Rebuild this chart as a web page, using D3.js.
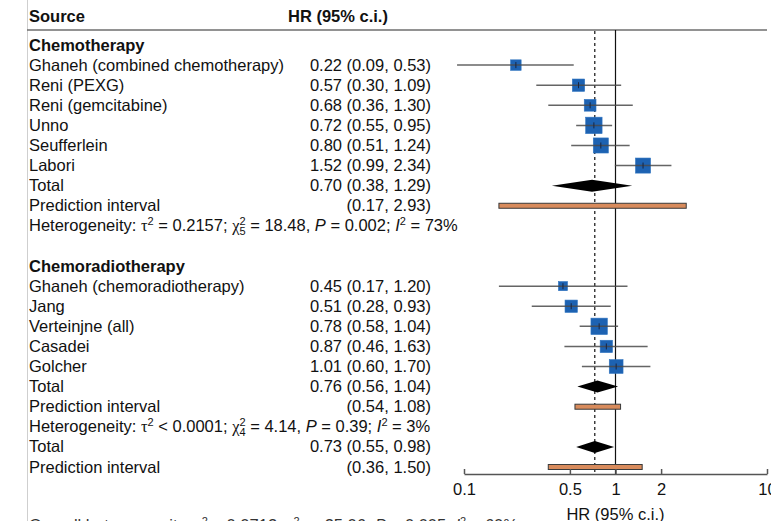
<!DOCTYPE html>
<html>
<head>
<meta charset="utf-8">
<script src="https://cdn.jsdelivr.net/npm/d3@7"></script>
<style>
  body { margin: 0; background: #fff; }
  svg { display: block; }
</style>
</head>
<body>
<svg id="chart" width="771" height="521"></svg>
<script>
// ---- Chemotherapy subgroup ----
const chemoStudies = ["Ghaneh (combined chemotherapy)", "Reni (PEXG)", "Reni (gemcitabine)", "Unno", "Seufferlein", "Labori"];
const chemoHR    = [0.22, 0.57, 0.68, 0.72, 0.80, 1.52];
const chemoLower = [0.09, 0.30, 0.36, 0.55, 0.51, 0.99];
const chemoUpper = [0.53, 1.09, 1.30, 0.95, 1.24, 2.34];
const chemoWeight = [5.6, 7.7, 7.0, 13.6, 11.5, 11.5];   // study weights (%)
const chemoTotal = [0.70, 0.38, 1.29];                   // HR, lower, upper
const chemoPI    = [0.17, 2.93];
const chemoHet   = ["= 0.2157", 5, "18.48", "0.002", 73]; // tau², df, chi², P, I²

// ---- Chemoradiotherapy subgroup ----
const crtStudies = ["Ghaneh (chemoradiotherapy)", "Jang", "Verteinjne (all)", "Casadei", "Golcher"];
const crtHR    = [0.45, 0.51, 0.78, 0.87, 1.01];
const crtLower = [0.17, 0.28, 0.58, 0.46, 0.60];
const crtUpper = [1.20, 0.93, 1.04, 1.63, 1.70];
const crtWeight = [4.2, 7.7, 13.6, 7.7, 9.6];
const crtTotal = [0.76, 0.56, 1.04];
const crtPI    = [0.54, 1.08];
const crtHet   = ["< 0.0001", 4, "4.14", "0.39", 3];

// ---- Overall ----
const overallTotal = [0.73, 0.55, 0.98];
const overallPI    = [0.36, 1.50];
const overallHet   = ["= 0.0712", 10, "25.06", "0.005", 60];

const axisTicks = [0.1, 0.5, 1, 2, 10];

// ---- layout helpers ----
const FONT = "'Liberation Sans', Arial, Helvetica, sans-serif";
const SERIF = "'Liberation Serif', 'Times New Roman', serif";
const FS = 16.5;
const fmt = d3.format(".2f");

const svg = d3.select("#chart").attr("font-family", FONT).attr("font-size", FS);
svg.append("rect").attr("width", 771).attr("height", 521).attr("fill", "#fff");

const x = d3.scaleLog().domain([0.1, 10]).range([464, 767]);
const rowY = d3.scaleLinear().domain([0, 21]).range([45, 467]);
const side = d3.scaleSqrt().domain([0, d3.max(chemoWeight.concat(crtWeight))]).range([0, 16.4]);

// build the list of table rows
const rows = [];
function addGroup(title, names, hr, lo, hi, wt, total, pi, het) {
  rows.push({ type: "header", label: title });
  names.forEach((n, i) => rows.push({ type: "study", label: n, hr: hr[i], lo: lo[i], hi: hi[i], w: wt[i] }));
  rows.push({ type: "total", label: "Total", hr: total[0], lo: total[1], hi: total[2] });
  rows.push({ type: "pi", label: "Prediction interval", lo: pi[0], hi: pi[1] });
  rows.push({ type: "het", het: het });
}
addGroup("Chemotherapy", chemoStudies, chemoHR, chemoLower, chemoUpper, chemoWeight, chemoTotal, chemoPI, chemoHet);
rows.push({ type: "blank" });
addGroup("Chemoradiotherapy", crtStudies, crtHR, crtLower, crtUpper, crtWeight, crtTotal, crtPI, crtHet);
rows.push({ type: "total", label: "Total", hr: overallTotal[0], lo: overallTotal[1], hi: overallTotal[2] });
rows.push({ type: "pi", label: "Prediction interval", lo: overallPI[0], hi: overallPI[1] });
rows.forEach((r, i) => r.y = rowY(i));

// ---- frame ----
svg.append("line").attr("x1", 27.5).attr("x2", 27.5).attr("y1", 0).attr("y2", 521)
  .attr("stroke", "#cfcfcf").attr("stroke-width", 1);
svg.append("line").attr("x1", 27).attr("x2", 767).attr("y1", 30).attr("y2", 30)
  .attr("stroke", "#6e6e6e").attr("stroke-width", 1.5);

svg.append("text").attr("x", 29).attr("y", 22).attr("font-weight", "bold").attr("fill", "#111").text("Source");
svg.append("text").attr("x", 288).attr("y", 22).attr("font-weight", "bold").attr("fill", "#111").text("HR (95% c.i.)");

// ---- reference lines ----
svg.append("line").attr("x1", x(1)).attr("x2", x(1)).attr("y1", 30).attr("y2", 474)
  .attr("stroke", "#111").attr("stroke-width", 1.2);
svg.append("line").attr("x1", x(overallTotal[0])).attr("x2", x(overallTotal[0])).attr("y1", 31).attr("y2", 472)
  .attr("stroke", "#111").attr("stroke-width", 1.2).attr("stroke-dasharray", "3,3");

// ---- heterogeneity text ----
function hetText(sel, xPos, yBase, h, prefix) {
  const t = sel.append("text").attr("x", xPos).attr("y", yBase).attr("fill", "#111");
  t.append("tspan").text(prefix + ": ");
  t.append("tspan").attr("font-family", SERIF).text("τ");
  t.append("tspan").attr("font-size", 11).attr("dy", -6).text("2");
  t.append("tspan").attr("dy", 6).text(" " + h[0] + "; ");
  t.append("tspan").attr("font-family", SERIF).text("χ");
  t.append("tspan").attr("font-size", 11).attr("dy", -6).text("2");
  t.append("tspan").attr("font-size", 11).attr("dx", -6.1).attr("dy", 10).text(h[1]);
  t.append("tspan").attr("dy", -4).text(" = " + h[2] + ", ");
  t.append("tspan").attr("font-style", "italic").text("P");
  t.append("tspan").text(" = " + h[3] + "; ");
  t.append("tspan").attr("font-style", "italic").text("I");
  t.append("tspan").attr("font-size", 11).attr("dy", -6).text("2");
  t.append("tspan").attr("dy", 6).text(" = " + h[4] + "%");
  return t;
}

// ---- rows ----
const BASE = 5.5;
rows.forEach(r => {
  if (r.type === "blank") return;
  if (r.type === "header") {
    svg.append("text").attr("x", 29).attr("y", r.y + BASE).attr("font-weight", "bold").attr("fill", "#111").text(r.label);
    return;
  }
  if (r.type === "het") {
    hetText(svg, 29, r.y + BASE, r.het, "Heterogeneity");
    return;
  }
  svg.append("text").attr("x", 29).attr("y", r.y + BASE).attr("fill", "#111").text(r.label);
  const val = r.type === "pi" ? `(${fmt(r.lo)}, ${fmt(r.hi)})` : `${fmt(r.hr)} (${fmt(r.lo)}, ${fmt(r.hi)})`;
  svg.append("text").attr("x", 431).attr("y", r.y + BASE).attr("text-anchor", "end").attr("fill", "#111").text(val);

  if (r.type === "study") {
    const s = side(r.w);
    svg.append("rect").attr("x", x(r.hr) - s / 2).attr("y", r.y - s / 2).attr("width", s).attr("height", s)
      .attr("fill", "#1d62b2").attr("stroke", "#2f74c0").attr("stroke-width", 0.6);
    svg.append("line").attr("x1", x(r.lo)).attr("x2", x(r.hi)).attr("y1", r.y).attr("y2", r.y)
      .attr("stroke", "#4a4a4a").attr("stroke-opacity", 0.85).attr("stroke-width", 1.5);
    svg.append("line").attr("x1", x(r.hr)).attr("x2", x(r.hr)).attr("y1", r.y - 3).attr("y2", r.y + 3)
      .attr("stroke", "#1a2540").attr("stroke-width", 1);
  } else if (r.type === "total") {
    const hh = 6;
    svg.append("path")
      .attr("d", `M${x(r.lo)},${r.y}L${x(r.hr)},${r.y - hh}L${x(r.hi)},${r.y}L${x(r.hr)},${r.y + hh}Z`)
      .attr("fill", "#000");
  } else if (r.type === "pi") {
    svg.append("rect").attr("x", x(r.lo)).attr("y", r.y - 2.5).attr("width", x(r.hi) - x(r.lo)).attr("height", 5)
      .attr("fill", "#d88b5c").attr("stroke", "#3a3a3a").attr("stroke-width", 1);
  }
});

// ---- axis ----
const axis = d3.axisBottom(x).tickValues(axisTicks).tickFormat(d => String(d))
  .tickSizeInner(-5).tickSizeOuter(0).tickPadding(9);
const gAxis = svg.append("g").attr("transform", "translate(0,474)").call(axis)
  .attr("font-family", FONT).attr("font-size", FS);
gAxis.select(".domain").attr("stroke", "#555").attr("stroke-width", 1.5);
gAxis.selectAll(".tick line").attr("stroke", "#555").attr("stroke-width", 1.5);
gAxis.selectAll(".tick text").attr("fill", "#111");

svg.append("text").attr("x", x(1)).attr("y", 520).attr("text-anchor", "middle").attr("fill", "#111").text("HR (95% c.i.)");

// overall heterogeneity line, running off the bottom edge
hetText(svg, 29, 531, overallHet, "Overall heterogeneity").attr("fill", "#333");
</script>
</body>
</html>
